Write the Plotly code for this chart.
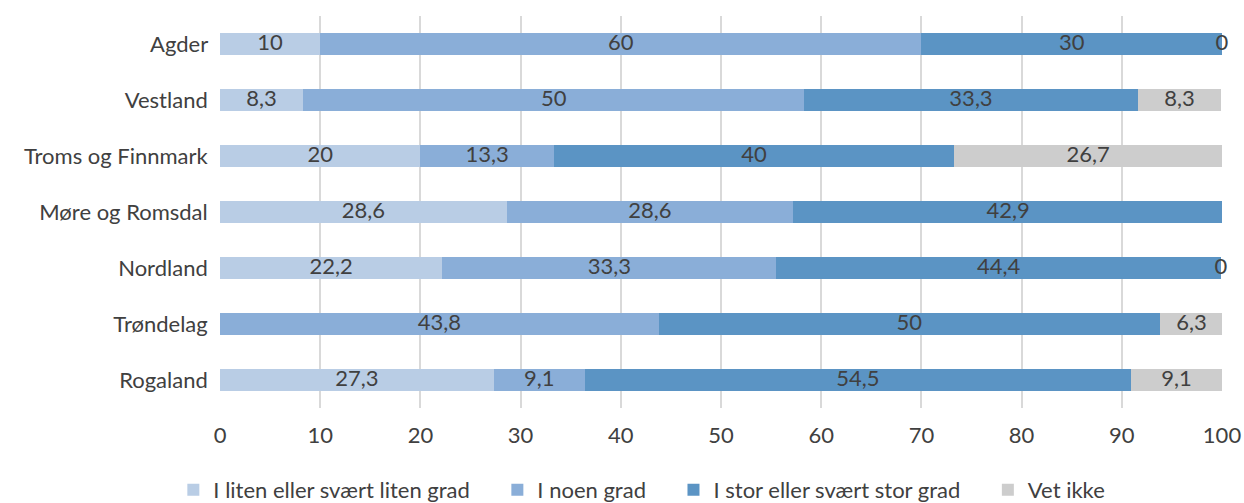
import plotly.graph_objects as go

regions = ["Agder", "Vestland", "Troms og Finnmark", "Møre og Romsdal", "Nordland", "Trøndelag", "Rogaland"]
series_names = ["I liten eller svært liten grad", "I noen grad", "I stor eller svært stor grad", "Vet ikke"]
liten = [10, 8.3, 20, 28.6, 22.2, None, 27.3]
noen = [60, 50, 13.3, 28.6, 33.3, 43.8, 9.1]
stor = [30, 33.3, 40, 42.9, 44.4, 50, 54.5]
vet_ikke = [0, 8.3, 26.7, None, 0, 6.3, 9.1]
x_ticks = [0, 10, 20, 30, 40, 50, 60, 70, 80, 90, 100]

colors = ["#B9CDE5", "#8AAED8", "#5B94C4", "#CDCDCD"]
all_series = [liten, noen, stor, vet_ikke]

FONT = "Lato"
FS = 22
TXT = "#404040"
PAD = "\u00a0\u00a0\u00a0\u00a0"

fig = go.Figure()
for k, (name, vals, col) in enumerate(zip(series_names, all_series, colors)):
    fig.add_trace(go.Bar(
        y=regions, x=[v if v is not None else 0 for v in vals],
        name=name + (PAD if k < len(series_names) - 1 else ""),
        orientation="h", marker=dict(color=col, line=dict(width=0)),
        hoverinfo="skip",
    ))

# data labels centred in each segment
lx, ly, lt = [], [], []
cum = [0.0] * len(regions)
for vals in all_series:
    for i, v in enumerate(vals):
        if v is None:
            continue
        lx.append(cum[i] + v / 2)
        ly.append(regions[i])
        lt.append(f"{v:g}".replace(".", ","))
        cum[i] += v
fig.add_trace(go.Scatter(
    x=lx, y=ly, text=lt, mode="text", showlegend=False, hoverinfo="skip",
    textfont=dict(family=FONT, size=FS, color=TXT), cliponaxis=False,
))

fig.update_layout(
    barmode="stack", bargap=0.6,
    width=1244, height=503,
    margin=dict(l=220, r=22, t=16, b=95, autoexpand=False),
    plot_bgcolor="white", paper_bgcolor="white",
    font=dict(family=FONT, size=FS, color=TXT),
    separators=", ",
    legend=dict(orientation="h", x=0.421, xanchor="center", y=-0.209, yanchor="middle",
                font=dict(family=FONT, size=FS, color=TXT), traceorder="normal",
                itemwidth=30),
    xaxis=dict(range=[0, 100], tickvals=x_ticks, showgrid=True, gridcolor="#D9D9D9",
               gridwidth=1.5, zeroline=False, showline=False, ticks="",
               automargin=False, ticklabelstandoff=12, ticklabeloverflow="allow",
               tickfont=dict(family=FONT, size=FS, color=TXT)),
    yaxis=dict(categoryorder="array", categoryarray=regions[::-1], showgrid=False,
               automargin=False, ticks="", ticklen=0,
               tickfont=dict(family=FONT, size=FS, color=TXT),
               ticksuffix="  "),
)
fig.write_html(
    "out.html",
    config={"displayModeBar": False},
    post_script="document.body.style.margin='0';document.body.style.overflow='hidden';",
)
